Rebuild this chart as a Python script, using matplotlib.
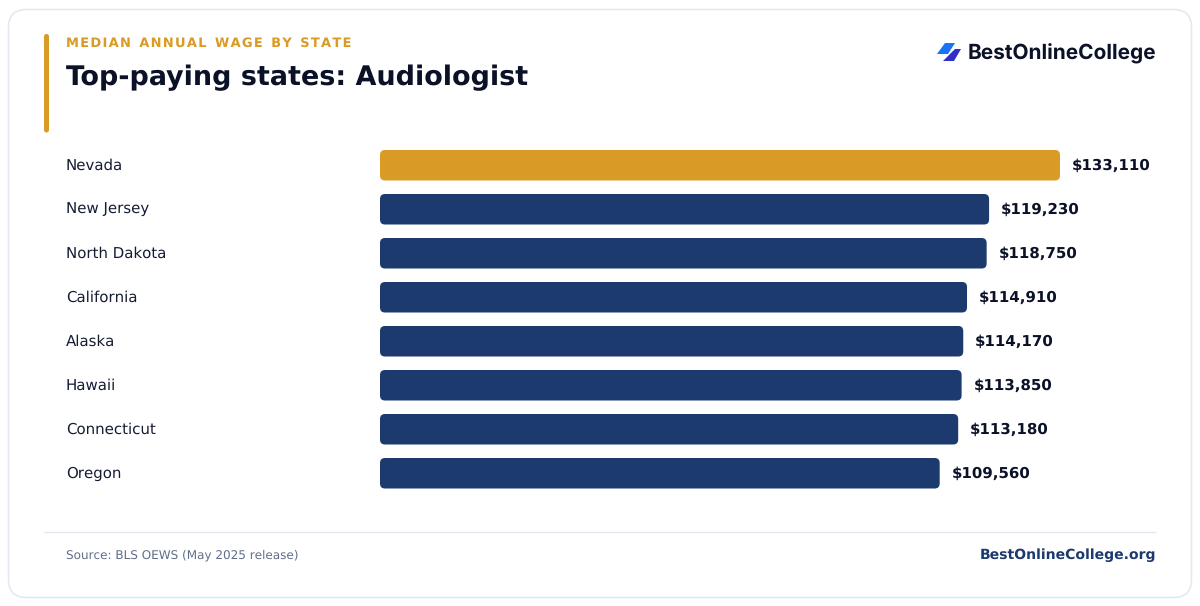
import matplotlib
matplotlib.use("Agg")
import matplotlib.pyplot as plt
from matplotlib.patches import FancyBboxPatch, Polygon

plt.rcParams["font.family"] = ["DejaVu Sans"]
plt.rcParams["text.hinting"] = "no_hinting"
plt.rcParams["text.hinting_factor"] = 1

states = ["Nevada", "New Jersey", "North Dakota", "California", "Alaska", "Hawaii", "Connecticut", "Oregon"]
wages = [133110, 119230, 118750, 114910, 114170, 113850, 113180, 109560]
eyebrow = "MEDIAN ANNUAL WAGE BY STATE"
title = "Top-paying states: Audiologist"
GOLD = "#D99A26"
NAVY = "#1C3A6E"
INK = "#0B1228"
W, H = 1200, 606

fig = plt.figure(figsize=(W/100, H/100), dpi=100, facecolor="white")
bg = fig.add_axes([0, 0, 1, 1])
bg.set_xlim(0, W); bg.set_ylim(H, 0); bg.axis("off")

bg.add_patch(FancyBboxPatch((8.5, 9.5), 1183, 588, boxstyle="round,pad=0,rounding_size=18",
                            fc="white", ec="#E3E7F0", lw=1.1))
bg.add_patch(FancyBboxPatch((44, 34), 5, 98.5, boxstyle="round,pad=0,rounding_size=2.5",
                            fc=GOLD, ec="none"))
spaced = "\u200a".join(eyebrow).replace(" ", " \u200a")
bg.text(66, 43, spaced, color=GOLD, fontsize=9.7, fontweight="bold",
        va="center", ha="left")
bg.text(66, 77.5, title, color=INK, fontsize=19.5, fontweight="bold", va="center", ha="left")

bg.add_patch(Polygon([(945, 43), (955, 43), (948, 54), (937, 54)], fc="#1A73F5", ec="none"))
bg.add_patch(Polygon([(955, 49), (961, 49), (954, 61), (943, 61)], fc="#3030C8", ec="none"))
bg.text(968, 54, "BestOnlineCollege", color=INK, fontsize=15, fontweight="bold",
        family="Inter", va="center", ha="left")

bg.plot([44, 1156], [532, 532], color="#E3E7F0", lw=1, solid_capstyle="butt")
bg.text(66, 555.5, "Source: BLS OEWS (May 2025 release)", color="#5F6E88", fontsize=8.67,
        va="center", ha="left")
bg.text(1156, 555.5, "BestOnlineCollege.org", color=NAVY, fontsize=10, fontweight="bold",
        va="center", ha="right")

ax = fig.add_axes([380/W, 1 - 495/H, 680/W, 352/H])
ax.patch.set_alpha(0)
ax.set_xlim(0, max(wages))
ax.set_ylim(len(states) - 0.5, -0.5)
ax.axis("off")
ux = max(wages) / 680
uy = 1 / 44
for i, (s, v) in enumerate(zip(states, wages)):
    c = GOLD if i == 0 else NAVY
    ax.add_patch(FancyBboxPatch((0, i - 15*uy), v, 30.5*uy,
                                boxstyle=f"round,pad=0,rounding_size={5*ux}",
                                mutation_aspect=uy/ux, fc=c, ec="none", clip_on=False))
    ax.annotate(f"${v:,}", (v, i), xytext=(8.6, -0.7), textcoords="offset points",
                color=INK, fontsize=10.95, fontweight="bold", va="center", ha="left",
                annotation_clip=False)
    bg.text(66, 169.5 + 44*i, s, color="#141C32", fontsize=10.8, va="baseline", ha="left")

fig.savefig("out.png", dpi=100, facecolor="white")
